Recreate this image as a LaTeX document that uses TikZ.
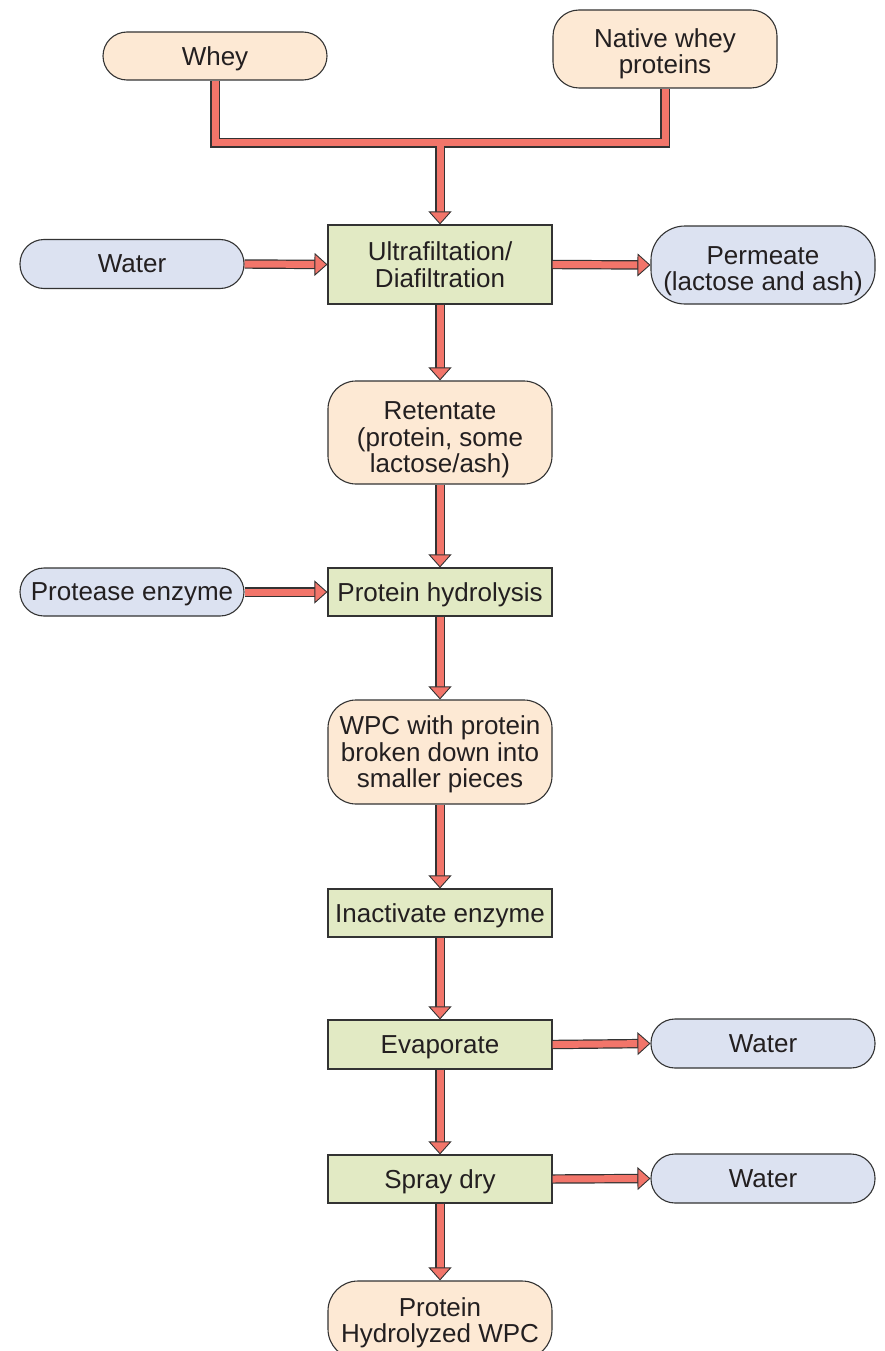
\documentclass[tikz,border=0pt]{standalone}
\usepackage{fontspec}
\setmainfont{Liberation Sans}
\usetikzlibrary{arrows.meta}
\definecolor{peach}{HTML}{FDE9D4}
\definecolor{bluefill}{HTML}{DCE2F1}
\definecolor{greenfill}{HTML}{E2EAC4}
\definecolor{arrowred}{HTML}{F2756A}
\definecolor{edge}{HTML}{333333}
\definecolor{txt}{HTML}{231F20}
\tikzset{
  box/.style={draw=edge, line width=1.1pt, minimum width=224pt, inner sep=0pt, align=center, text=txt,
    font=\fontsize{26}{26.5}\selectfont, text depth=0pt},
  stepbox/.style={box, fill=greenfill, minimum height=48pt},
  inbox/.style={box, fill=peach},
  sidebox/.style={box, fill=bluefill},
  flow/.style={draw=arrowred, line width=7pt,
    -{Triangle[length=13pt,width=23pt,line width=0.9pt,color=edge,fill=arrowred]},
    preaction={draw=edge, line width=9.4pt, arrows=-, shorten >=10pt}},
  pipeout/.style={draw=edge, line width=9.4pt},
  pipein/.style={draw=arrowred, line width=7pt},
}
\begin{document}
\begin{tikzpicture}[x=1pt,y=-1pt]
\useasboundingbox (0,0) rectangle (885,1351);
\clip (0,0) rectangle (885,1351);
\node[inbox, minimum height=48pt, rounded corners=24pt] (whey) at (215,56) {Whey};
\node[inbox, minimum height=78pt, rounded corners=26pt, text height=49.5pt] (native) at (665,49) {Native whey\\proteins};
\node[sidebox, minimum height=49pt, rounded corners=24pt] (waterin) at (132,264) {Water};
\node[stepbox, minimum height=79pt] (uf) at (440,264.5) {Ultrafiltation/\\Diafiltration};
\node[sidebox, minimum height=78pt, rounded corners=34pt, text height=51.5pt] (permeate) at (763,265) {Permeate\\(lactose and ash)};
\node[inbox, minimum height=103pt, rounded corners=28pt, text height=80pt] (retentate) at (440,432.5) {Retentate\\(protein, some\\lactose/ash)};
\node[sidebox, minimum height=48pt, rounded corners=24pt] (protease) at (132,592) {Protease enzyme};
\node[stepbox] (hydro) at (440,592) {Protein hydrolysis};
\node[inbox, minimum height=104pt, rounded corners=28pt] (wpc) at (440,752) {WPC with protein\\broken down into\\smaller pieces};
\node[stepbox] (inact) at (440,913) {Inactivate enzyme};
\node[stepbox, minimum height=49pt] (evap) at (440,1044.5) {Evaporate};
\node[sidebox, minimum height=49pt, rounded corners=24pt] (waterout1) at (763,1043.5) {Water};
\node[stepbox] (spray) at (440,1179) {Spray dry};
\node[sidebox, minimum height=49pt, rounded corners=24pt] (waterout2) at (763,1178.5) {Water};
\node[inbox, minimum height=78pt, rounded corners=30pt] (final) at (440,1320) {Protein\\Hydrolyzed WPC};
\coordinate (junc) at (440,143);
% merge of the two inputs
\draw[pipeout] (whey.south) |- (junc) -| (native.south);
\draw[flow] (junc) -- (uf.north);
\draw[pipein] (whey.south) |- (junc) -| (native.south);
% main flow
\draw[flow] (waterin.east) -- (uf.west);
\draw[flow] (uf.east) -- (permeate.west);
\draw[flow] (uf.south) -- (retentate.north);
\draw[flow] (retentate.south) -- (hydro.north);
\draw[flow] (protease.east) -- (hydro.west);
\draw[flow] (hydro.south) -- (wpc.north);
\draw[flow] (wpc.south) -- (inact.north);
\draw[flow] (inact.south) -- (evap.north);
\draw[flow] (evap.east) -- (waterout1.west);
\draw[flow] (evap.south) -- (spray.north);
\draw[flow] (spray.east) -- (waterout2.west);
\draw[flow] (spray.south) -- (final.north);
\end{tikzpicture}
\end{document}
